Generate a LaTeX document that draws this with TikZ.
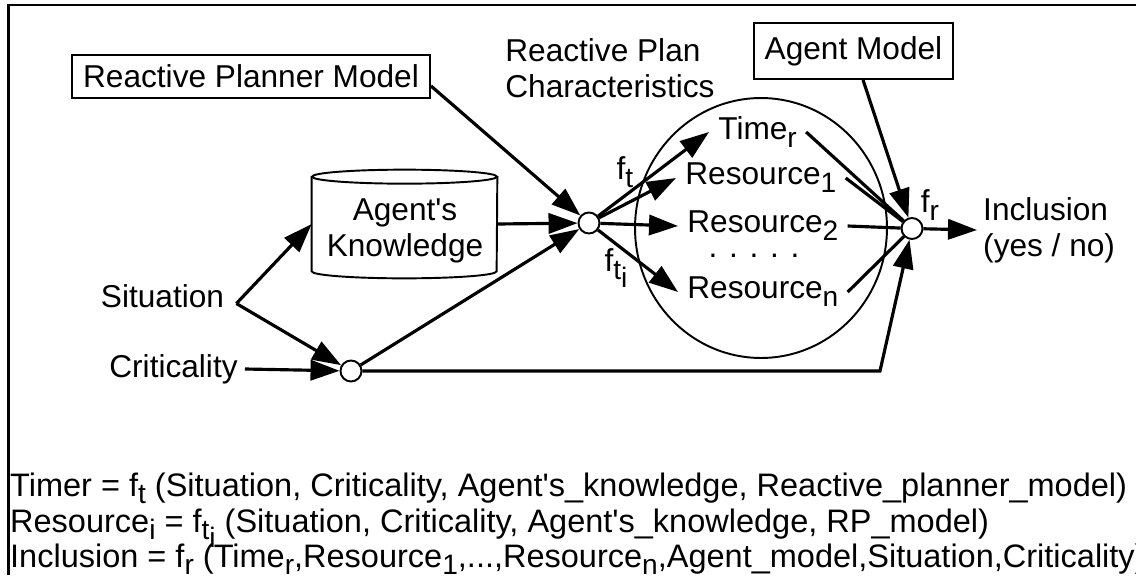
\documentclass[tikz,border=0pt]{standalone}
\usepackage{fontspec}
\newfontfamily\helv{Liberation Sans}
\usepackage{tikz}
\usetikzlibrary{arrows.meta}
\usetikzlibrary{shapes.geometric}
\usetikzlibrary{positioning}
\newcommand{\sbs}[1]{\raisebox{-4.5pt}{\fontsize{16}{16}\selectfont #1}}

\begin{document}
\begin{tikzpicture}[x=0.02cm, y=-0.02cm,
        every node/.style={font=\helv\fontsize{18}{20.5}\selectfont},
        conn/.style={line width=1.8pt, -{Triangle[length=16.5pt,width=11.5pt]}},
        wire/.style={line width=1.8pt},
        box/.style={draw, line width=1.1pt},
        jn/.style={circle, draw, line width=1.1pt, fill=white, minimum size=0.42cm, inner sep=0pt},
        item/.style={inner xsep=0.18cm, inner ysep=0.04cm},
        eqn/.style={anchor=base west, font=\helv\fontsize{18.5}{20.5}\selectfont}]
    \useasboundingbox (0,0) rectangle (1136,575);
    \draw[line width=1.6pt] (8.5,575) -- (8.5,5) -- (1136,5);

    \node[box, minimum width=7.16cm, minimum height=0.86cm, inner sep=0pt] (rpm) at (251,76.5) {Reactive Planner Model};
    \node[box, minimum width=3.98cm, minimum height=1.12cm, inner sep=0pt] (agent) at (853.5,51) {Agent Model};
    \node[anchor=north west, inner sep=0pt, align=left] (rpclbl) at (505,38) {Reactive Plan\\Characteristics};

    \node[minimum width=3.7cm, minimum height=1.88cm, inner sep=0pt] (know) at (404.5,224) {};
    \draw[box] (know.north west) -- (know.south west)
        arc[start angle=180, end angle=360, x radius=1.85cm, y radius=0.14cm] -- (know.north east);
    \draw[box] (know.north) ellipse [x radius=1.85cm, y radius=0.14cm];
    \node[align=center] (knowtxt) at (405,231) {Agent's\\Knowledge};

    \node[ellipse, draw, line width=1.1pt, minimum width=5.04cm, minimum height=5.2cm, inner sep=0pt] (rpc) at (761,228) {};

    \node[inner xsep=0.24cm] (sit) at (162.5,296) {Situation};
    \node[inner xsep=0.14cm] (crit) at (173.5,369) {Criticality};

    \node[jn] (ft) at (589,223) {};
    \node[jn] (jc) at (351,371) {};
    \node[jn] (fr) at (912,228.5) {};
    \coordinate (bend) at (880,371);

    \node[item, anchor=west] (time) at (709,132) {Time\sbs{r}};
    \node[item, anchor=west] (res1) at (676,178) {Resource\sbs{1}};
    \node[item, anchor=west] (res2) at (678,226) {Resource\sbs{2}};
    \node (dots) at (754,256) {. . . . .};
    \node[item, anchor=west] (resn) at (678,292) {Resource\sbs{n}};

    \node (ftlbl) at (625,172) {f\sbs{t}};
    \node (ftilbl) at (616,268) {f\sbs{t\sbs{i}}};
    \node (frlbl) at (930,205) {f\sbs{r}};
    \node[anchor=west, align=left] (incl) at (977,230) {Inclusion\\(yes / no)};

    \draw[conn] (sit.mid east) -- (know.west);
    \draw[conn] (sit.mid east) -- (jc);
    \draw[conn] (crit.east) -- (jc);
    \draw[conn] (know.east) -- (ft);
    \draw[conn] (rpm.-3) -- (ft);
    \draw[conn] (jc) -- (ft);
    \draw[conn] (ft) -- (time.west);
    \draw[conn] (ft) -- (res1.west);
    \draw[conn] (ft) -- (res2.west);
    \draw[conn] (ft) -- (resn.west);
    \draw[wire] (time.east) -- (fr);
    \draw[wire] (res1.east) -- (fr);
    \draw[wire] (res2.east) -- (fr);
    \draw[wire] (resn.east) -- (fr);
    \draw[conn] (agent) -- (fr);
    \draw[conn] (jc) -- (bend) -- (fr);
    \draw[conn] (fr) -- (incl.west);

    \node[eqn] (eqtime) at (4,496) {Timer = f\sbs{t} (Situation, Criticality, Agent's\_knowledge, Reactive\_planner\_model)};
    \node[eqn] (eqres) at (4,532) {Resource\sbs{i} = f\sbs{t\sbs{i}} (Situation, Criticality, Agent's\_knowledge, RP\_model)};
    \node[eqn] (eqincl) at (4,567) {Inclusion = f\sbs{r} (Time\sbs{r},Resource\sbs{1},...,Resource\sbs{n},Agent\_model,Situation,Criticality)};
\end{tikzpicture}
\end{document}
